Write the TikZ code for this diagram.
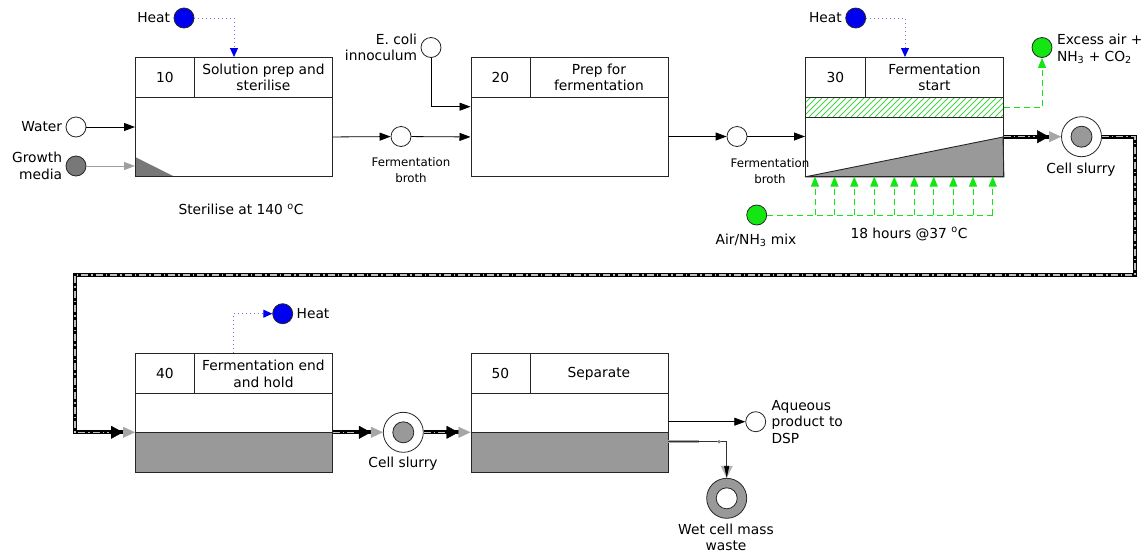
\documentclass[tikz,border=0pt]{standalone}
\usepackage{fontspec}
\setmainfont{DejaVu Sans}
\usetikzlibrary{arrows.meta}
\definecolor{boxgray}{RGB}{153,153,153}
\definecolor{gmgray}{RGB}{120,120,120}
\definecolor{lgreen}{RGB}{20,230,20}
\definecolor{hatchg}{RGB}{70,210,70}
\definecolor{hblue}{RGB}{0,0,240}
\definecolor{dblue}{RGB}{110,110,255}
\newcommand\fA{\fontsize{13.8}{16.5}\selectfont}
\newcommand\fB{\fontsize{11.8}{16.5}\selectfont}
\begin{document}
\begin{tikzpicture}[x=1pt,y=-1pt,
  cell/.style={draw=black!85, line width=0.9pt, inner sep=0pt, anchor=north west, minimum height=40pt, align=center, font=\fA},
  body/.style={draw=black!85, line width=0.9pt, inner sep=0pt, anchor=north west, minimum width=197pt},
  lbl/.style={font=\fA, align=center},
  sml/.style={font=\fB, align=center},
  circ/.style={circle, draw=black!85, line width=0.8pt, minimum size=20pt, inner sep=0pt, fill=white},
  bigcirc/.style={circle, draw=black!85, line width=0.8pt, minimum size=40pt, inner sep=0pt, fill=white},
  thinarr/.style={draw=black, line width=0.8pt, -{Triangle[length=11pt,width=8pt]}},
  grayarr/.style={draw=gray!75, line width=0.9pt, -{Triangle[length=11pt,width=8pt]}},
  heatline/.style={draw=dblue, line width=0.9pt, dash pattern=on 1pt off 3pt, -{Triangle[hblue,length=9pt,width=8pt]}},
  greendash/.style={draw=lgreen, line width=1pt, dash pattern=on 6pt off 4pt},
  greenarr/.style={greendash, -{Triangle[lgreen,length=10pt,width=8pt]}},
  slurry/.style={draw=black, line width=4pt, line join=miter,
     postaction={draw=gray!50, line width=1.3pt, dash pattern=on 7pt off 3pt on 1.5pt off 3pt, arrows=-, shorten >=26pt}},
  slurrytip/.style={-{Triangle[black,line width=0.4pt,length=12pt,width=13pt] Triangle[gray!70,line width=0.4pt,length=12pt,width=11pt]}}
]
\useasboundingbox (0,0) rectangle (1145,555);

% ---------- Box 10 ----------
\node[cell, minimum width=59pt] (n10) at (135,57) {10};
\node[cell, minimum width=138pt] (t10) at (194,57) {Solution prep and\\sterilise};
\node[body, minimum height=79pt] (b10) at (135,97) {};
\fill[gmgray] (b10.south west) -- ([yshift=20pt]b10.south west) -- ([xshift=40pt]b10.south west) -- cycle;
\draw[black!85, line width=0.9pt] (b10.south west) rectangle (b10.north east);
\node[lbl] (st10) at (241,209) {Sterilise at 140 \textsuperscript{o}C};

\node[circ] (water) at (76,127) {};
\node[lbl, anchor=east] at (water.west) {Water};
\node[circ, fill=gmgray] (gm) at (76,166) {};
\node[lbl, anchor=east, align=right] at (gm.west) {Growth\\media};
\draw[thinarr] (water) -- (water -| b10.west);
\draw[grayarr] (gm) -- (gm -| b10.west);

\node[circ, fill=hblue] (h1) at (184,18) {};
\node[lbl, anchor=east] at (h1.west) {Heat};
\coordinate (h1in) at (234,57);
\draw[heatline] (h1) -| (h1in);

% ---------- Box 20 ----------
\node[cell, minimum width=59pt] (n20) at (470.5,57) {20};
\node[cell, minimum width=138pt] (t20) at (529.5,57) {Prep for\\fermentation};
\node[body, minimum height=79pt] (b20) at (470.5,97) {};

\node[circ] (fb1) at (401,136.5) {};
\node[sml] at (411,170) {Fermentation\\broth};
\draw[thinarr] (b10.east) -- (fb1);
\draw[thinarr] (fb1) -- (b20.west);

\node[circ] (ec) at (431,47.5) {};
\node[lbl, anchor=east, align=right] at (ec.west) {E. coli\\innoculum};
\coordinate (ecin) at (470.5,106.7);
\draw[thinarr] (ec) |- (ecin);

% ---------- Box 30 ----------
\node[cell, minimum width=60pt] (n30) at (805,57) {30};
\node[cell, minimum width=138pt] (t30) at (865,57) {Fermentation\\start};
\node[body, minimum width=198pt, minimum height=20pt] (hb30) at (805,97) {};
\begin{scope}
  \clip (hb30.south west) rectangle (hb30.north east);
  \foreach \i in {0,...,38} {
    \draw[hatchg, line width=0.9pt] (785+6*\i,117) -- (805+6*\i,97);
  }
\end{scope}
\draw[black!85, line width=0.9pt] (hb30.south west) rectangle (hb30.north east);
\node[body, minimum width=198pt, minimum height=59pt] (b30) at (805,117) {};
\filldraw[fill=boxgray, draw=black!85, line width=0.9pt] (b30.south west) -- (1003,137) -- (b30.south east) -- cycle;
\draw[black!85, line width=0.9pt] (b30.south west) rectangle (b30.north east);

\node[circ] (fb2) at (737,136.5) {};
\node[sml] at (770,171) {Fermentation\\broth};
\draw[thinarr] (fb2 -| b20.east) -- (fb2);
\draw[thinarr] (fb2) -- (fb2 -| b30.west);

\node[circ, fill=hblue] (h2) at (855.7,18) {};
\node[lbl, anchor=east] at (h2.west) {Heat};
\coordinate (h2in) at (905,57);
\draw[heatline] (h2) -| (h2in);

\node[circ, fill=lgreen] (ea) at (1042,47.5) {};
\node[lbl, anchor=west, align=left] at (1053.5,49) {Excess air +\\NH\textsubscript{3} + CO\textsubscript{2}};
\draw[greenarr] (hb30.east) -| (ea);

\node[circ, fill=lgreen] (am) at (756.7,215) {};
\node[lbl] at (756,240) {Air/NH\textsubscript{3} mix};
\coordinate (amend) at (993,215);
\draw[greendash] (am) -- (amend);
\foreach \x in {815,834.5,854.3,874.3,894.3,914.3,933.7,953.3,973,992.7} {
  \draw[greenarr] (\x,215) -- (\x,176.5);
}
\node[lbl] at (909,234) {18 hours @37 \textsuperscript{o}C};

\node[bigcirc] (cs1) at (1081.5,136.7) {};
\node[circle, fill=boxgray, draw=black!85, line width=0.8pt, minimum size=21pt, inner sep=0pt] at (cs1) {};
\node[lbl] at (1081,170) {Cell slurry};
\draw[slurry, slurrytip] (cs1 -| b30.east) -- (cs1);

% ---------- Box 40 ----------
\node[cell, minimum width=59pt] (n40) at (135,353.3) {40};
\node[cell, minimum width=138pt] (t40) at (194,353.3) {Fermentation end\\and hold};
\node[body, minimum height=79pt] (b40) at (135,392.7) {};
\node[body, fill=boxgray, minimum height=39.4pt] (g40) at (135,432.3) {};

\coordinate (r1) at (1135,275);
\coordinate (l1) at (75,275);
\draw[slurry, slurrytip] (cs1) -| (r1) -- (l1) |- (g40.north west);

\node[circ, fill=hblue] (h3) at (282.7,313.7) {};
\node[lbl, anchor=west] at (h3.east) {Heat};
\coordinate (h3out) at (233.3,353.3);
\draw[heatline] (h3out) |- (h3);

% ---------- Box 50 ----------
\node[cell, minimum width=59pt] (n50) at (470.5,353.3) {50};
\node[cell, minimum width=138pt] (t50) at (529.5,353.3) {Separate};
\node[body, minimum height=79pt] (b50) at (470.5,392.7) {};
\node[body, fill=boxgray, minimum height=39.4pt] (g50) at (470.5,432.3) {};

\node[bigcirc] (cs2) at (403.3,432.3) {};
\node[circle, fill=boxgray, draw=black!85, line width=0.8pt, minimum size=21pt, inner sep=0pt] at (cs2) {};
\node[lbl] at (403,464) {Cell slurry};
\draw[slurry, slurrytip] (g40.north east) -- (cs2);
\draw[slurry, slurrytip] (cs2) -- (g50.north west);

\node[circ] (ap) at (755.7,421.7) {};
\node[lbl, anchor=west, align=left] at (768,422) {Aqueous\\product to\\DSP};
\draw[thinarr] (ap -| b50.east) -- (ap);

\node[bigcirc, fill=boxgray] (wc) at (726.7,498.3) {};
\node[circle, fill=white, draw=black!85, line width=0.8pt, minimum size=21pt, inner sep=0pt] at (wc) {};
\node[font=\fontsize{13.8}{15.8}\selectfont, align=center, inner sep=1pt] at (726,537.5) {Wet cell mass\\waste};
\coordinate (wj) at (726.7,441.7);
\coordinate (wg) at (699,441.7);
\draw[gray!70, line width=2.5pt] (wj -| b50.east) -- (wg);
\draw[draw=black!80, line width=0.8pt, -{Triangle[gray!60,length=12pt,width=12pt]}] (wj -| b50.east) -| (wc);
\draw[draw=black!80, line width=0.8pt, -{Triangle[black,length=12pt,width=5pt]}] (wj) -- (wc);
\fill[gray] (719,441.7) circle (1.8pt);
\end{tikzpicture}
\end{document}
